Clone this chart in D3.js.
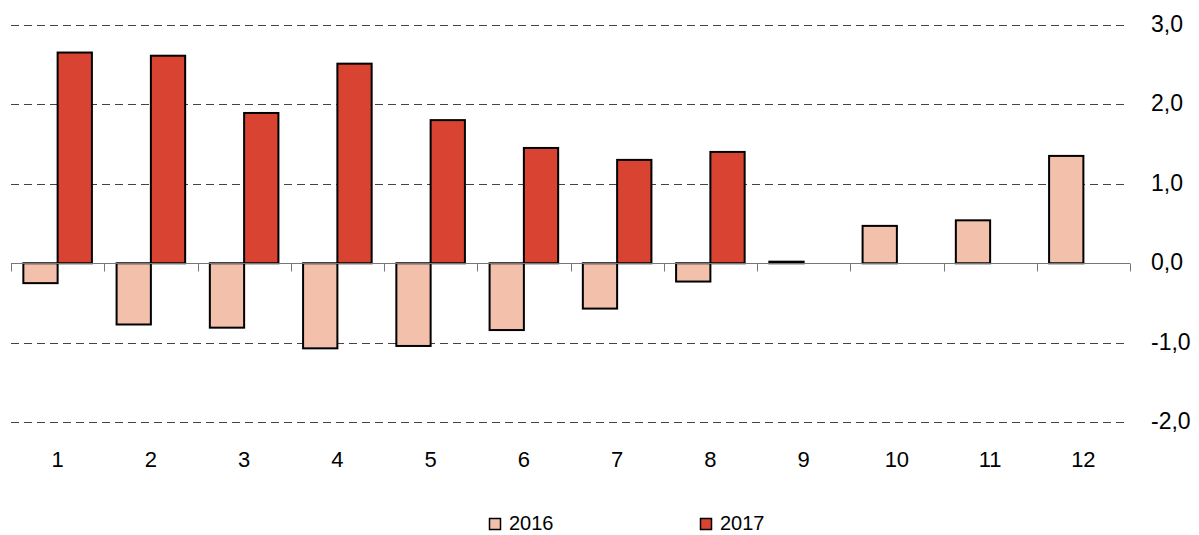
<!DOCTYPE html>
<html>
<head>
<meta charset="utf-8">
<script src="https://cdn.jsdelivr.net/npm/d3@7"></script>
<style>
  body { margin: 0; background: #fff; }
  svg text { font-family: "Liberation Sans", Arial, sans-serif; fill: #000; }
</style>
</head>
<body>
<svg id="chart" width="1199" height="535"></svg>
<script>
// data
const categories = ["1", "2", "3", "4", "5", "6", "7", "8", "9", "10", "11", "12"];
const seriesNames = ["2016", "2017"];
const values2016 = [-0.25, -0.77, -0.81, -1.07, -1.04, -0.84, -0.57, -0.23, 0.02, 0.47, 0.54, 1.35];
const values2017 = [2.65, 2.61, 1.89, 2.51, 1.80, 1.45, 1.30, 1.40, null, null, null, null];
const yTicks = [-2, -1, 0, 1, 2, 3];
const colors = ["#f3c1ab", "#d94432"];

const svg = d3.select("#chart");

const x = d3.scaleBand()
    .domain(categories)
    .range([11, 1130]);

const x1 = d3.scaleBand()
    .domain(seriesNames)
    .range([0, x.bandwidth()])
    .paddingOuter(0.36);

const y = d3.scaleLinear()
    .domain([-2, 3])
    .range([422.3, 24.7]);

const fmt = v => d3.format(".1f")(v).replace(".", ",").replace("−", "-");

// dashed gridlines (not at zero)
svg.append("g")
    .selectAll("line")
    .data(yTicks.filter(t => t !== 0))
    .enter()
    .append("line")
    .attr("x1", 11)
    .attr("x2", 1127)
    .attr("y1", d => Math.round(y(d)) + 0.5)
    .attr("y2", d => Math.round(y(d)) + 0.5)
    .attr("stroke", "#444")
    .attr("stroke-width", 1)
    .attr("stroke-dasharray", "8,5");

// right axis labels
svg.append("g")
    .selectAll("text")
    .data(yTicks)
    .enter()
    .append("text")
    .attr("x", 1151)
    .attr("y", d => y(d) - 1)
    .attr("dy", "0.35em")
    .attr("font-size", 23)
    .text(d => fmt(d));

// bars
const series = seriesNames.map((name, i) => ({
    name: name,
    values: i === 0 ? values2016 : values2017
}));

series.forEach((s, si) => {
    svg.append("g")
        .selectAll("rect")
        .data(categories.map((c, i) => ({cat: c, v: s.values[i]})).filter(d => d.v !== null))
        .enter()
        .append("rect")
        .attr("x", d => x(d.cat) + x1(s.name))
        .attr("width", x1.bandwidth())
        .attr("y", d => y(Math.max(0, d.v)))
        .attr("height", d => Math.max(Math.abs(y(d.v) - y(0)), 0.5))
        .attr("fill", colors[si])
        .attr("stroke", "#000")
        .attr("stroke-width", 2);
});

// zero axis with ticks at category boundaries
const y0 = Math.round(y(0)) + 0.5;
svg.append("line")
    .attr("x1", 11)
    .attr("x2", 1130)
    .attr("y1", y0)
    .attr("y2", y0)
    .attr("stroke", "#777")
    .attr("stroke-width", 1);

const boundaries = categories.map(c => x(c)).concat([x.range()[1]]);
svg.append("g")
    .selectAll("line")
    .data(boundaries)
    .enter()
    .append("line")
    .attr("x1", d => Math.round(d) + 0.5)
    .attr("x2", d => Math.round(d) + 0.5)
    .attr("y1", y0)
    .attr("y2", y0 + 8)
    .attr("stroke", "#777")
    .attr("stroke-width", 1);

// category labels
svg.append("g")
    .selectAll("text")
    .data(categories)
    .enter()
    .append("text")
    .attr("x", d => x(d) + x.bandwidth() / 2)
    .attr("y", 459)
    .attr("dy", "0.35em")
    .attr("text-anchor", "middle")
    .attr("font-size", 22)
    .text(d => d);

// legend
const legendX = [489, 700];
const legend = svg.append("g")
    .selectAll("g")
    .data(seriesNames)
    .enter()
    .append("g")
    .attr("transform", (d, i) => `translate(${legendX[i]},523)`);

legend.append("rect")
    .attr("x", 0.5)
    .attr("y", -4.5)
    .attr("width", 11)
    .attr("height", 11)
    .attr("fill", (d, i) => colors[i])
    .attr("stroke", "#000")
    .attr("stroke-width", 1.5);

legend.append("text")
    .attr("x", 20)
    .attr("y", 0)
    .attr("dy", "0.35em")
    .attr("font-size", 20)
    .text(d => d);
</script>
</body>
</html>
